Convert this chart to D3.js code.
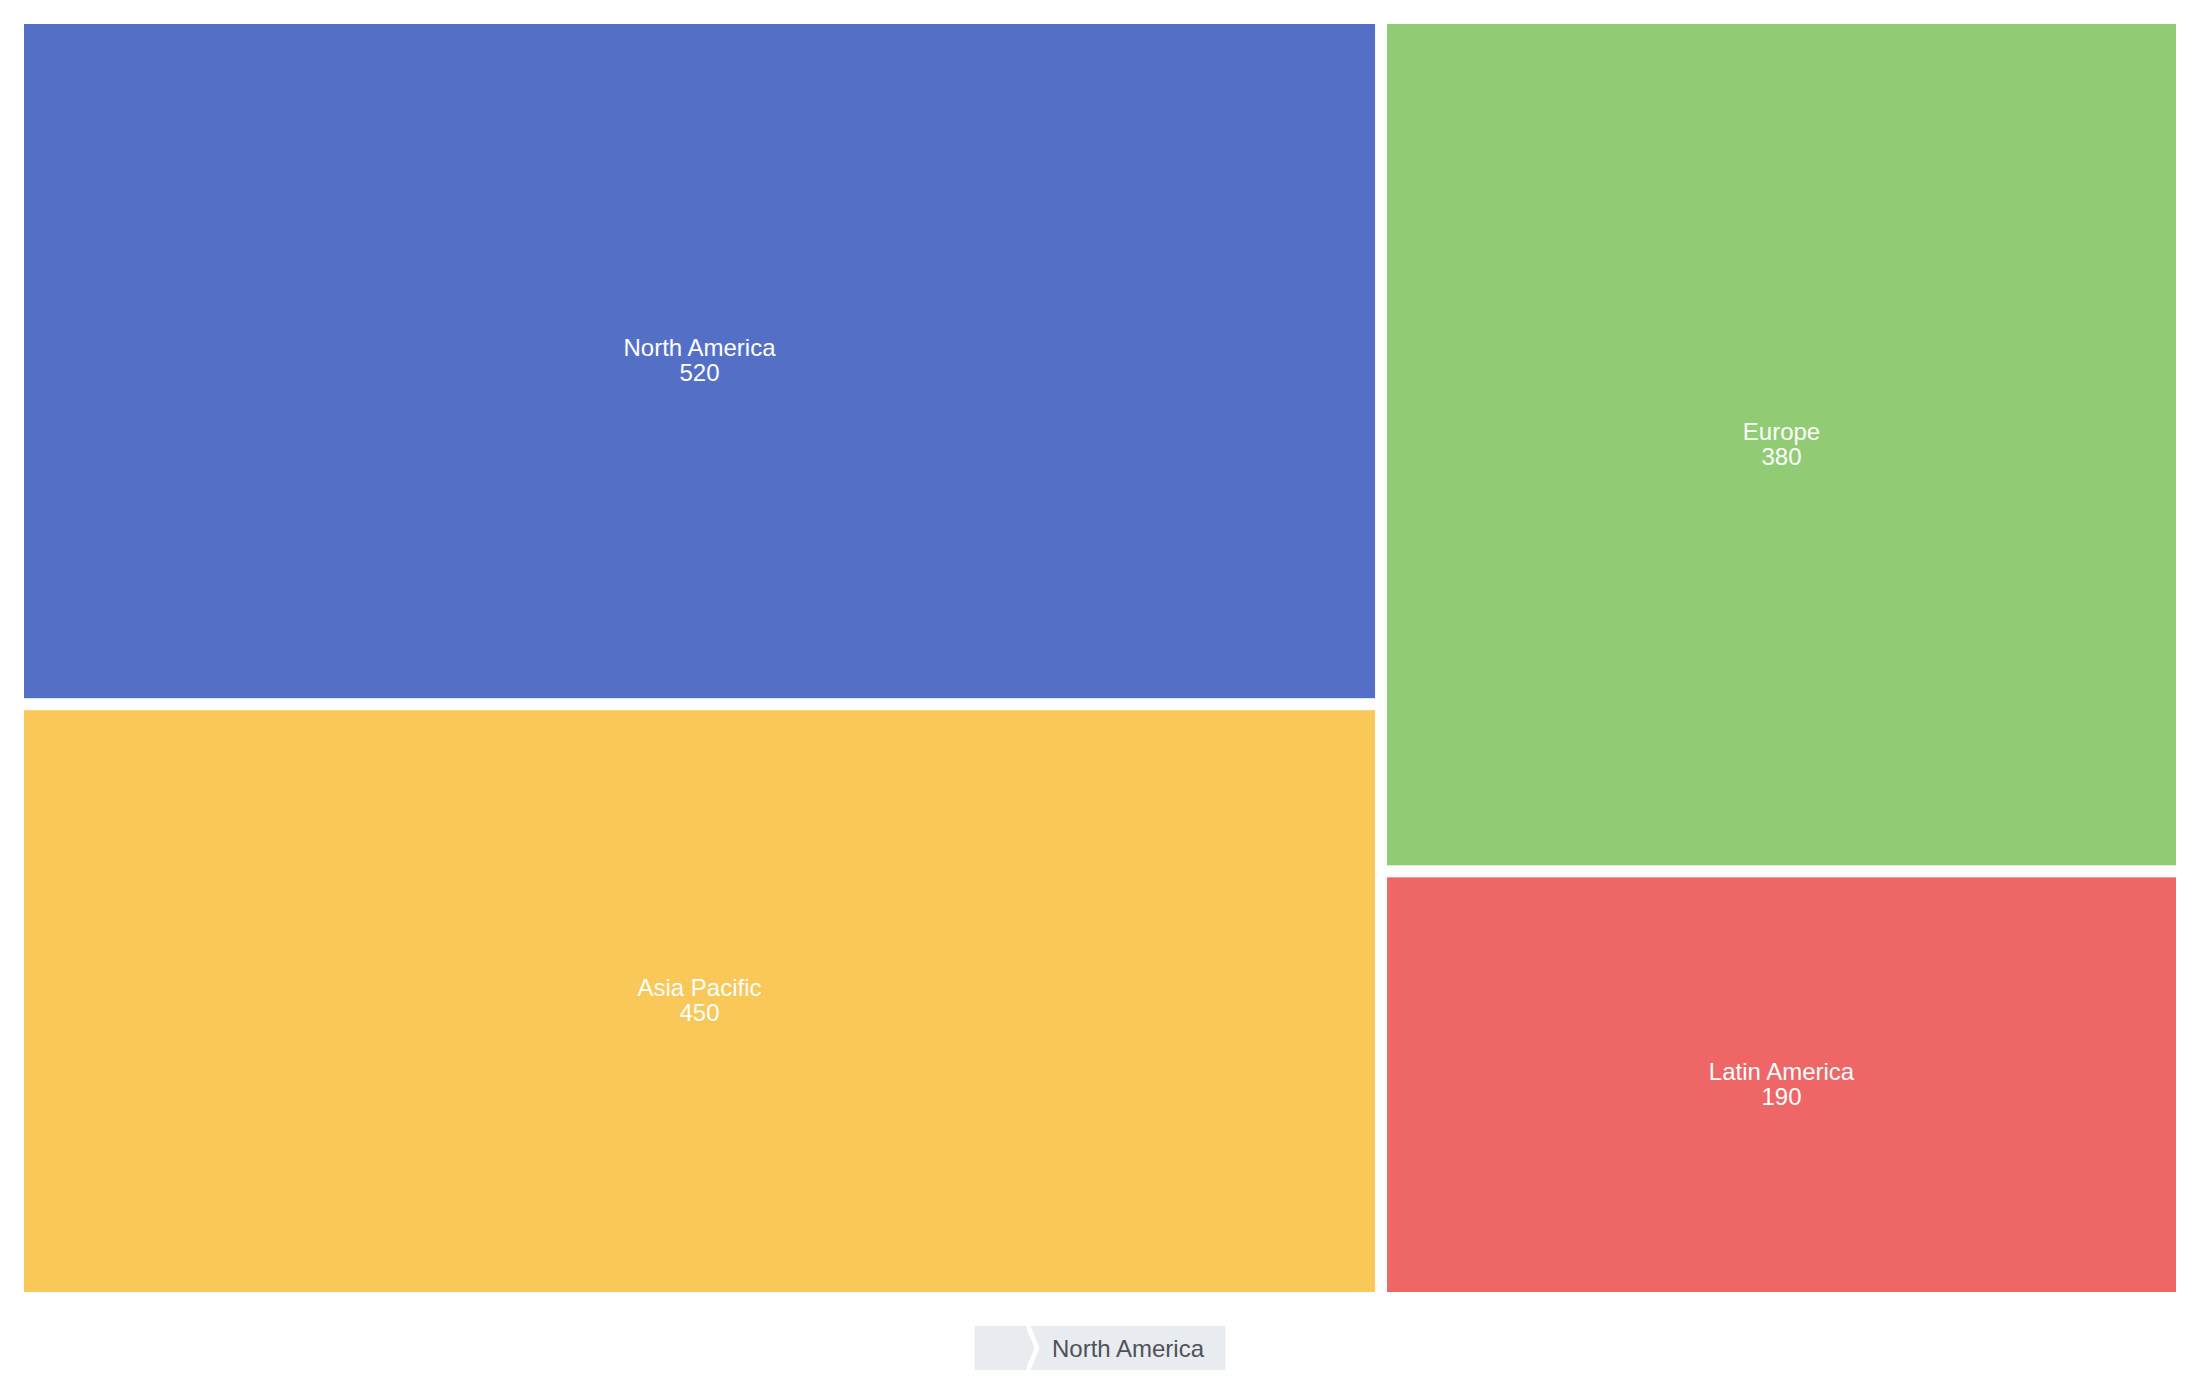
<!DOCTYPE html>
<html>
<head>
<meta charset="utf-8">
<script src="https://cdn.jsdelivr.net/npm/d3@7"></script>
<style>
  body { margin: 0; background: #fff; }
  svg { display: block; font-family: "Liberation Sans", Arial, sans-serif; }
</style>
</head>
<body>
<svg id="chart"></svg>
<script>
// data
var regions = ['North America', 'Europe', 'Asia Pacific', 'Latin America'];
var sales = [520, 380, 450, 190];
var colors = ['#5470c6', '#91cc75', '#fac858', '#ee6666'];
var crumbs = ['', 'North America'];

var width = 2200, height = 1394;
var margin = {top: 24, right: 24, bottom: 102, left: 24};
var innerW = width - margin.left - margin.right;
var innerH = height - margin.top - margin.bottom;

var svg = d3.select('#chart')
    .attr('width', width)
    .attr('height', height);

var g = svg.append('g')
    .attr('transform', `translate(${margin.left},${margin.top})`);

var root = d3.hierarchy({
        name: 'root',
        children: regions.map(function (r, i) {
            return {name: r, value: sales[i], color: colors[i]};
        })
    })
    .sum(d => d.value || 0)
    .sort((a, b) => b.value - a.value);

d3.treemap()
    .tile(d3.treemapSquarify)
    .size([innerW, innerH])
    .paddingInner(12)(root);

var cell = g.selectAll('.cell')
    .data(root.leaves())
    .enter()
    .append('g')
    .attr('class', 'cell');

cell.append('rect')
    .attr('x', d => d.x0)
    .attr('y', d => d.y0)
    .attr('width', d => d.x1 - d.x0)
    .attr('height', d => d.y1 - d.y0)
    .attr('fill', d => d.data.color);

cell.append('text')
    .attr('x', d => (d.x0 + d.x1) / 2)
    .attr('y', d => (d.y0 + d.y1) / 2 - 5)
    .attr('text-anchor', 'middle')
    .attr('fill', '#fff')
    .style('font-size', '24px')
    .text(d => d.data.name);

cell.append('text')
    .attr('x', d => (d.x0 + d.x1) / 2)
    .attr('y', d => (d.y0 + d.y1) / 2 + 20)
    .attr('text-anchor', 'middle')
    .attr('fill', '#fff')
    .style('font-size', '24px')
    .text(d => d.data.value);

// breadcrumb
var bcH = 44, arrow = 9, gap = 5, minW = 51, padX = 21.5;
var bcY = 1326;
var bc = svg.append('g').attr('class', 'breadcrumb');

var items = bc.selectAll('.crumb')
    .data(crumbs)
    .enter()
    .append('g')
    .attr('class', 'crumb');

var labels = items.append('text')
    .attr('text-anchor', 'middle')
    .attr('fill', '#4f5259')
    .style('font-size', '24px')
    .text(d => d);

var widths = [];
labels.each(function (d, i) {
    var tw = this.getComputedTextLength();
    widths.push(d ? tw + padX * 2 : minW);
});

var total = d3.sum(widths) + gap * (crumbs.length - 1);
var x = width / 2 - total / 2;
var xs = [];
widths.forEach(function (w, i) {
    xs.push(x);
    x += w + gap;
});

items.insert('path', 'text')
    .attr('fill', '#e8ebef')
    .attr('d', function (d, i) {
        var x0 = xs[i], x1 = xs[i] + widths[i];
        var last = i === crumbs.length - 1;
        var pts = [[x0, bcY], [x1, bcY]];
        if (!last) pts.push([x1 + arrow, bcY + bcH / 2]);
        pts.push([x1, bcY + bcH], [x0, bcY + bcH]);
        if (i > 0) pts.push([x0 + arrow, bcY + bcH / 2]);
        return d3.line()(pts) + 'Z';
    });

labels
    .attr('x', (d, i) => xs[i] + widths[i] / 2)
    .attr('y', bcY + bcH / 2 + 8.5);
</script>
</body>
</html>
